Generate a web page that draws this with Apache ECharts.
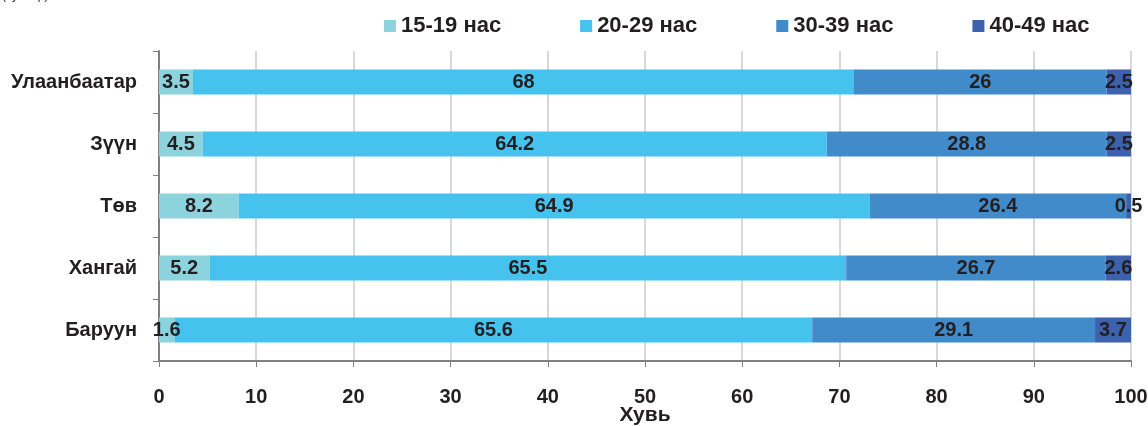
<!DOCTYPE html>
<html>
<head>
<meta charset="utf-8">
<script src="https://cdn.jsdelivr.net/npm/echarts@6/dist/echarts.min.js"></script>
<style>
  html, body { margin: 0; padding: 0; background: #ffffff; }
  #chart { width: 1148px; height: 426px; }
</style>
</head>
<body>
<div id="chart"></div>
<script>
// Regions, top to bottom
const regions = ['Улаанбаатар', 'Зүүн', 'Төв', 'Хангай', 'Баруун'];

// Share of each age group, percent
const age15to19 = [3.5, 4.5, 8.2, 5.2, 1.6];
const age20to29 = [68, 64.2, 64.9, 65.5, 65.6];
const age30to39 = [26, 28.8, 26.4, 26.7, 29.1];
const age40to49 = [2.5, 2.5, 0.5, 2.6, 3.7];

const seriesNames = ['15-19 нас', '20-29 нас', '30-39 нас', '40-49 нас'];
const seriesColors = ['#8cd3dd', '#45c2ee', '#418bca', '#3c61ad'];
const seriesValues = [age15to19, age20to29, age30to39, age40to49];

const FONT = 'Liberation Sans, Arial, sans-serif';
const TEXT = '#231f20';

const chart = echarts.init(document.getElementById('chart'), null, { renderer: 'canvas' });

chart.setOption({
  animation: false,
  backgroundColor: '#ffffff',
  textStyle: { fontFamily: FONT },
  graphic: [{
    type: 'text',
    left: 2,
    top: -10,
    style: { text: '(хувиар)', font: '12px ' + FONT, fill: TEXT }
  }],
  legend: {
    data: seriesNames,
    top: 10,
    left: 379,
    itemWidth: 12,
    itemHeight: 12,
    itemGap: 79,
    icon: 'rect',
    textStyle: { fontFamily: FONT, fontWeight: 'bold', fontSize: 22, color: TEXT }
  },
  grid: {
    left: 159, right: 17, top: 51, bottom: 65,
    containLabel: false,
    outerBoundsMode: 'none'
  },
  xAxis: {
    type: 'value',
    min: 0,
    max: 100,
    interval: 10,
    name: 'Хувь',
    nameLocation: 'middle',
    nameGap: 54,
    nameMoveOverlap: false,
    nameTextStyle: { fontFamily: FONT, fontWeight: 'bold', fontSize: 21, color: TEXT, verticalAlign: 'middle' },
    axisLine: { show: true, lineStyle: { color: '#808080', width: 2 } },
    axisTick: { show: true, length: 6, lineStyle: { color: '#808080', width: 1 } },
    axisLabel: { margin: 26, fontFamily: FONT, fontWeight: 'bold', fontSize: 20, color: TEXT },
    splitLine: { show: true, lineStyle: { color: '#d9d9d9', width: 2 } }
  },
  yAxis: {
    type: 'category',
    data: regions,
    inverse: true,
    axisLine: { show: true, lineStyle: { color: '#808080', width: 2 } },
    axisTick: { show: true, length: 6, lineStyle: { color: '#808080', width: 1 } },
    axisLabel: { margin: 22, fontFamily: FONT, fontWeight: 'bold', fontSize: 20, color: TEXT },
    splitLine: { show: false }
  },
  series: seriesNames.map((name, i) => ({
    name: name,
    type: 'bar',
    stack: 'total',
    barWidth: 25,
    itemStyle: { color: seriesColors[i] },
    label: {
      show: true,
      position: 'inside',
      fontFamily: FONT,
      fontWeight: 'bold',
      fontSize: 20,
      color: TEXT,
      formatter: p => String(p.value)
    },
    labelLayout: { hideOverlap: false },
    data: seriesValues[i]
  }))
});
</script>
</body>
</html>
